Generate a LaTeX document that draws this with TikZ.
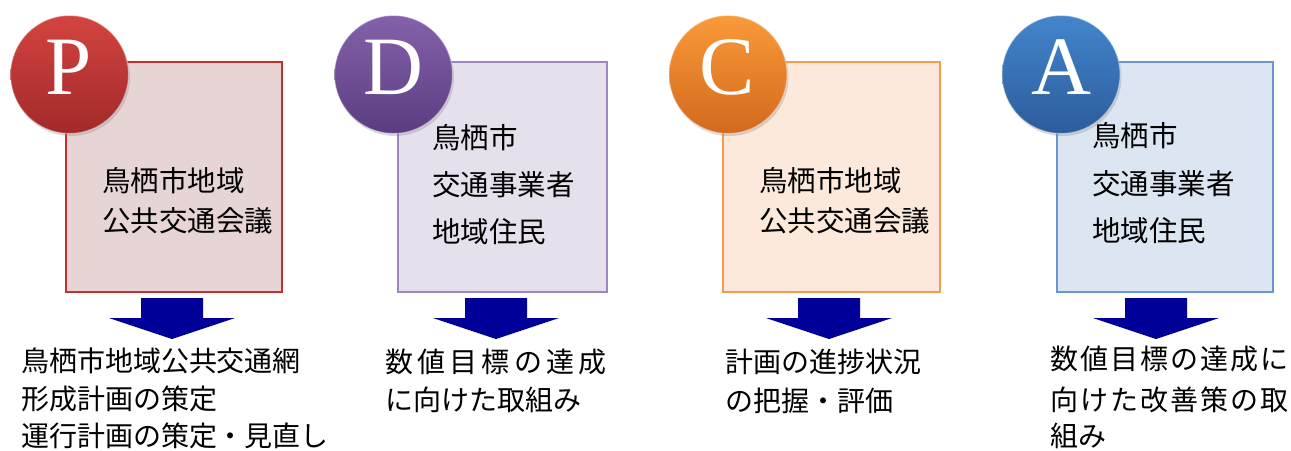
\documentclass[tikz,border=0pt]{standalone}
\usepackage{fontspec}
\newfontfamily\jp{Noto Sans CJK JP}
\newfontfamily\letterfont{Liberation Serif}
\usetikzlibrary{shadows}
\definecolor{arrowblue}{RGB}{0,0,153}
\definecolor{pTop}{HTML}{D3443F}\definecolor{pBot}{HTML}{A2292A}
\definecolor{pFill}{HTML}{E7D5D5}\definecolor{pLine}{HTML}{C3302F}
\definecolor{dTop}{HTML}{8462AB}\definecolor{dBot}{HTML}{5B3C80}
\definecolor{dFill}{HTML}{E6E0EC}\definecolor{dLine}{HTML}{9E86C0}
\definecolor{cTop}{HTML}{FA9A38}\definecolor{cBot}{HTML}{D2691D}
\definecolor{cFill}{HTML}{FCE9DB}\definecolor{cLine}{HTML}{F69A4F}
\definecolor{aTop}{HTML}{4385CC}\definecolor{aBot}{HTML}{2C5C9C}
\definecolor{aFill}{HTML}{DCE6F2}\definecolor{aLine}{HTML}{6A96CC}
\tikzset{
  panelbox/.style={draw, line width=1.6pt, minimum width=#1, minimum height=230, anchor=north west, inner sep=0, outer sep=0},
  badge/.style={circle, minimum size=118, inner sep=0, draw=white, draw opacity=0.35, line width=1.2pt,
    drop shadow={opacity=0.3, shadow xshift=1.5pt, shadow yshift=-2.5pt}},
  letter/.style={text=white, font=\letterfont\fontsize{83}{83}\selectfont, inner sep=0},
  boxtext/.style={anchor=base west, inner sep=0, outer sep=0, font=\jp\fontsize{28.5}{34}\selectfont},
  bottext/.style={anchor=base west, inner sep=0, outer sep=0, font=\jp\fontsize{28}{34}\selectfont},
  downarrow/.style={fill=arrowblue}
}
\newcommand{\blockarrow}[2]{% #1 name, #2 center x
  \fill[downarrow] (#2-31,298) -- (#2+31,298) -- (#2+31,318) -- (#2+63,318) -- (#2,339) -- (#2-63,318) -- (#2-31,318) -- cycle;
}
\begin{document}
\begin{tikzpicture}[x=1pt,y=-1pt]
\useasboundingbox (0,0) rectangle (1291,450);
% ---------- P ----------
\node[panelbox=216, draw=pLine, fill=pFill] (pbox) at (66,62) {};
\node[badge, top color=pTop, bottom color=pBot] (pcirc) at (69.5,74.5) {};
\node[letter] (pletter) at (68.5,67.5) {P};
\node[boxtext] (pt1) at (102,191) {鳥栖市地域};
\node[boxtext] (pt2) at (102,231) {公共交通会議};
\blockarrow{pa}{172}
\node[bottext] (pb1) at (21,371) {鳥栖市地域公共交通網};
\node[bottext] (pb2) at (21,409) {形成計画の策定};
\node[bottext] (pb3) at (21,446) {運行計画の策定・見直し};
% ---------- D ----------
\node[panelbox=209, draw=dLine, fill=dFill] (dbox) at (398,62) {};
\node[badge, top color=dTop, bottom color=dBot] (dcirc) at (393.5,74.5) {};
\node[letter] (dletter) at (393,67.5) {D};
\node[boxtext] (dt1) at (432,148) {鳥栖市};
\node[boxtext] (dt2) at (432,195) {交通事業者};
\node[boxtext] (dt3) at (432,242) {地域住民};
\blockarrow{da}{496}
\node[bottext] (db1) at (385.5,372) {\makebox[221pt][s]{数\hfill 値\hfill 目\hfill 標\hfill の\hfill 達\hfill 成}};
\node[bottext] (db2) at (385.5,410) {に向けた取組み};
% ---------- C ----------
\node[panelbox=217, draw=cLine, fill=cFill] (cbox) at (723,62) {};
\node[badge, top color=cTop, bottom color=cBot] (ccirc) at (728,74.5) {};
\node[letter] (cletter) at (727,67.5) {C};
\node[boxtext] (ct1) at (759,191) {鳥栖市地域};
\node[boxtext] (ct2) at (759,231) {公共交通会議};
\blockarrow{ca}{829}
\node[bottext] (cb1) at (725.5,372) {計画の進捗状況};
\node[bottext] (cb2) at (725.5,411) {の把握・評価};
% ---------- A ----------
\node[panelbox=216, draw=aLine, fill=aFill] (abox) at (1057,62) {};
\node[badge, top color=aTop, bottom color=aBot] (acirc) at (1061,74.5) {};
\node[letter] (aletter) at (1061,67.5) {A};
\node[boxtext] (at1) at (1092,146) {鳥栖市};
\node[boxtext] (at2) at (1092,194) {交通事業者};
\node[boxtext] (at3) at (1092,241) {地域住民};
\blockarrow{aa}{1156}
\node[bottext] (ab1) at (1050.5,369) {\makebox[238pt][s]{数\hfill 値\hfill 目\hfill 標\hfill の\hfill 達\hfill 成\hfill に}};
\node[bottext] (ab2) at (1050.5,410) {\makebox[238pt][s]{向\hfill け\hfill た\hfill 改\hfill 善\hfill 策\hfill の\hfill 取}};
\node[bottext] (ab3) at (1050.5,446) {組み};
\end{tikzpicture}
\end{document}
